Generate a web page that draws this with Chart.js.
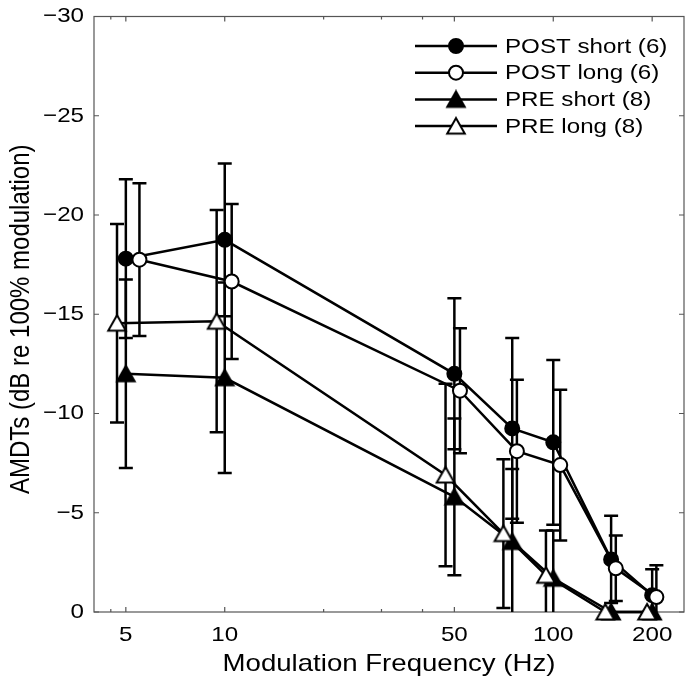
<!DOCTYPE html>
<html>
<head>
<meta charset="utf-8">
<script src="https://cdn.jsdelivr.net/npm/chart.js@4.4.1/dist/chart.umd.min.js"></script>
<style>
  html, body { margin: 0; padding: 0; background: #fff; }
</style>
</head>
<body>
<canvas id="chart" width="685" height="685"></canvas>
<script>
// values (dB, negative = better threshold)
const seriesNames = ['POST short (6)', 'POST long (6)', 'PRE short (8)', 'PRE long (8)'];

const postShortFreq = [5, 10, 50, 75, 100, 150, 200];
const postShortMean = [-17.8, -18.75, -12.0, -9.25, -8.55, -2.65, -0.85];
const postShortErr  = [4.0, 3.85, 3.8, 4.55, 4.15, 2.2, 1.3];

const postLongFreq = [5.5, 10.5, 52, 77.5, 105, 155, 206];
const postLongMean = [-17.75, -16.65, -11.15, -8.1, -7.4, -2.2, -0.75];
const postLongErr  = [3.85, 3.9, 3.15, 3.6, 3.8, 1.65, 1.6];

const preShortFreq = [5, 10, 50, 75, 100, 150, 200];
const preShortMean = [-12.0, -11.8, -5.8, -3.55, -1.7, 0, 0];
const preShortErr  = [4.75, 4.8, 3.95, 3.65, 2.4, 0, 0];

const preLongFreq = [4.7, 9.45, 47, 70.5, 95, 144, 193];
const preLongMean = [-14.55, -14.65, -6.9, -3.95, -1.85, 0, 0];
const preLongErr  = [5.0, 5.6, 4.6, 3.75, 2.25, 0, 0];

const xTickValues = [4.5, 5, 10, 20, 30, 40, 50, 100, 200];
const xTickLabels = ['', '5', '10', '', '', '', '50', '100', '200'];
const yTickValues = [-30, -25, -20, -15, -10, -5, 0];
const xTitle = 'Modulation Frequency (Hz)';
const yTitle = 'AMDTs (dB re 100% modulation)';

const FONT = '"Liberation Sans", Arial, Helvetica, sans-serif';
const STRETCH = 1.15; // the source figure is a bit wider than tall

function makeTriangle(filled) {
  const c = document.createElement('canvas');
  c.width = 22; c.height = 20;
  const g = c.getContext('2d');
  g.beginPath();
  g.moveTo(11, 2);
  g.lineTo(2.2, 17.5);
  g.lineTo(19.8, 17.5);
  g.closePath();
  g.fillStyle = filled ? '#000' : '#fff';
  g.fill();
  g.lineWidth = 2;
  g.strokeStyle = '#000';
  g.stroke();
  return c;
}
const triFilled = makeTriangle(true);
const triOpen = makeTriangle(false);

function pts(fr, mv) {
  return fr.map((f, i) => ({ x: f, y: mv[i] }));
}

function ds(i, fr, mv, err, style, fill) {
  return {
    label: seriesNames[i],
    data: pts(fr, mv),
    errors: err,
    borderColor: '#000',
    borderWidth: 2.5,
    tension: 0,
    pointStyle: style,
    pointRadius: 7,
    pointBorderWidth: 2,
    pointBorderColor: '#000',
    pointBackgroundColor: fill,
    clip: false,
    order: 3 - i
  };
}

const datasets = [
  ds(0, postShortFreq, postShortMean, postShortErr, 'circle', '#000'),
  ds(1, postLongFreq, postLongMean, postLongErr, 'circle', '#fff'),
  ds(2, preShortFreq, preShortMean, preShortErr, triFilled, '#000'),
  ds(3, preLongFreq, preLongMean, preLongErr, triOpen, '#fff')
];

// text stretched horizontally like in the original
function wideText(ctx, txt, x, y, align, rotate) {
  ctx.save();
  ctx.translate(x, y);
  ctx.scale(STRETCH, 1);
  if (rotate) ctx.rotate(-Math.PI / 2);
  ctx.textAlign = align;
  ctx.textBaseline = 'middle';
  ctx.fillText(txt, 0, 0);
  ctx.restore();
}

// error bars, drawn under the markers and clipped to the axes box
const errorBars = {
  id: 'errorBars',
  beforeDatasetsDraw(chart) {
    const { ctx, chartArea: a, scales: { x, y } } = chart;
    ctx.save();
    ctx.beginPath();
    ctx.rect(a.left, a.top, a.right - a.left, a.bottom - a.top);
    ctx.clip();
    ctx.strokeStyle = '#000';
    ctx.lineWidth = 2.5;
    chart.data.datasets.forEach(d => {
      d.data.forEach((p, i) => {
        const e = d.errors[i];
        if (!e) return;
        const px = x.getPixelForValue(p.x);
        const y1 = y.getPixelForValue(p.y - e);
        const y2 = y.getPixelForValue(p.y + e);
        ctx.beginPath();
        ctx.moveTo(px, y1); ctx.lineTo(px, y2);
        ctx.moveTo(px - 7, y1); ctx.lineTo(px + 7, y1);
        ctx.moveTo(px - 7, y2); ctx.lineTo(px + 7, y2);
        ctx.stroke();
      });
    });
    ctx.restore();
  }
};

// matlab style box, inward ticks, tick labels and axis titles
const axesBox = {
  id: 'axesBox',
  beforeDatasetsDraw(chart) {
    const { ctx, chartArea: a, scales: { x, y } } = chart;
    ctx.save();
    ctx.strokeStyle = '#555';
    ctx.lineWidth = 1.2;
    ctx.strokeRect(a.left, a.top, a.right - a.left, a.bottom - a.top);
    ctx.beginPath();
    xTickValues.forEach((v, i) => {
      const px = x.getPixelForValue(v);
      const len = xTickLabels[i] ? 5 : 3;
      ctx.moveTo(px, a.bottom); ctx.lineTo(px, a.bottom - len);
      ctx.moveTo(px, a.top); ctx.lineTo(px, a.top + len);
    });
    yTickValues.forEach(v => {
      const py = y.getPixelForValue(v);
      ctx.moveTo(a.left, py); ctx.lineTo(a.left + 5, py);
      ctx.moveTo(a.right, py); ctx.lineTo(a.right - 5, py);
    });
    ctx.stroke();

    ctx.fillStyle = '#000';
    ctx.font = '21px ' + FONT;
    xTickValues.forEach((v, i) => {
      if (xTickLabels[i]) wideText(ctx, xTickLabels[i], x.getPixelForValue(v), a.bottom + 23, 'center');
    });
    yTickValues.forEach(v => {
      const lbl = v < 0 ? '\u2212' + Math.abs(v) : String(v);
      wideText(ctx, lbl, a.left - 10, y.getPixelForValue(v), 'right');
    });
    ctx.font = '24px ' + FONT;
    wideText(ctx, xTitle, (a.left + a.right) / 2, 664, 'center');
    wideText(ctx, yTitle, 21, (a.top + a.bottom) / 2 + 5, 'center', true);
    ctx.restore();
  }
};

const lineLegend = {
  id: 'lineLegend',
  afterDraw(chart) {
    const { ctx } = chart;
    ctx.save();
    ctx.font = '21px ' + FONT;
    chart.data.datasets.forEach((d, i) => {
      const yy = 46 + i * 26.7;
      ctx.strokeStyle = '#000';
      ctx.lineWidth = 2.5;
      ctx.beginPath();
      ctx.moveTo(415, yy); ctx.lineTo(497, yy);
      ctx.stroke();
      if (d.pointStyle === 'circle') {
        ctx.beginPath();
        ctx.arc(456, yy, 7, 0, Math.PI * 2);
        ctx.fillStyle = d.pointBackgroundColor;
        ctx.fill();
        ctx.lineWidth = 2;
        ctx.stroke();
      } else {
        ctx.drawImage(d.pointStyle, 456 - d.pointStyle.width / 2, yy - d.pointStyle.height / 2);
      }
      ctx.fillStyle = '#000';
      wideText(ctx, d.label, 505, yy + 1, 'left');
    });
    ctx.restore();
  }
};

const noPad = s => { s.paddingLeft = 0; s.paddingRight = 0; s.paddingTop = 0; s.paddingBottom = 0; };

new Chart(document.getElementById('chart'), {
  type: 'line',
  data: { datasets },
  options: {
    responsive: false,
    animation: false,
    events: [],
    layout: { autoPadding: false, padding: { top: 16.5, right: 1, left: 0, bottom: 0 } },
    plugins: { legend: { display: false }, tooltip: { enabled: false } },
    scales: {
      x: {
        type: 'logarithmic',
        min: 4,
        max: 250,
        afterBuildTicks: s => { s.ticks = xTickValues.map(v => ({ value: v })); },
        afterFit: s => { s.height = 73; noPad(s); },
        grid: { display: false, drawTicks: false },
        border: { display: false },
        ticks: { display: false }
      },
      y: {
        reverse: true,
        min: -30,
        max: 0,
        afterBuildTicks: s => { s.ticks = yTickValues.map(v => ({ value: v })); },
        afterFit: s => { s.width = 94; noPad(s); },
        grid: { display: false, drawTicks: false },
        border: { display: false },
        ticks: { display: false }
      }
    }
  },
  plugins: [axesBox, errorBars, lineLegend]
});
</script>
</body>
</html>
